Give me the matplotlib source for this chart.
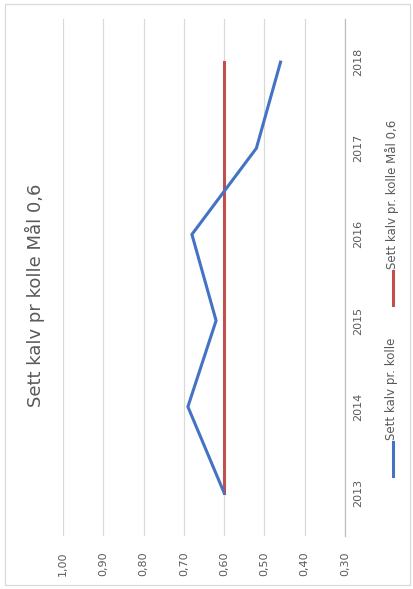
import numpy as np
import matplotlib
matplotlib.use('Agg')
import matplotlib.pyplot as plt
from matplotlib.lines import Line2D
from matplotlib.patches import Rectangle

years      = ['2013', '2014', '2015', '2016', '2017', '2018']
sett_kalv  = [0.60, 0.69, 0.62, 0.68, 0.52, 0.46]
maal       = [0.60, 0.60, 0.60, 0.60, 0.60, 0.60]
val_ticks  = [0.30, 0.40, 0.50, 0.60, 0.70, 0.80, 0.90, 1.00]

blue  = '#4472c4'
red   = '#c0504d'
txt   = '#595959'
W, H  = 414., 589.

fig = plt.figure(figsize=(4.14, 5.89), dpi=100)
fig.patch.set_facecolor('white')

# the whole chart is turned 90 deg ccw: values run along x (1,00 left), years along y
ax = fig.add_axes([63/W, 1-536/H, (345-63)/W, (536-19)/H])
pos = np.arange(len(years))

for v in val_ticks:
    ax.axvline(v, color='#d9d9d9', lw=0.9, zorder=0)

ax.plot(sett_kalv, pos, color=blue, lw=2.2, solid_joinstyle='miter', zorder=3)
ax.plot(maal, pos, color=red, lw=2.2, zorder=2)

ax.set_xlim(1.0, 0.3)
ax.set_ylim(-0.5, len(years)-0.5)
ax.set_xticks(val_ticks)
ax.set_xticklabels([('%.2f' % v).replace('.', ',') for v in val_ticks], rotation=90)
ax.set_yticks(pos)
ax.set_yticklabels(years, rotation=90, va='center')
ax.yaxis.tick_right()
ax.tick_params(axis='x', length=0, pad=11, labelsize=8, labelcolor=txt)
ax.tick_params(axis='y', length=0, pad=6, labelsize=8, labelcolor=txt)
for s in ['top', 'left', 'bottom']:
    ax.spines[s].set_visible(False)
ax.spines['right'].set_color('#bfbfbf')
ax.spines['right'].set_linewidth(0.9)
ax.set_facecolor('none')

# title on the left side
fig.text(35/W, 1-295/H, 'Sett kalv pr kolle Mål 0,6', rotation=90,
         ha='center', va='center', fontsize=13, color=txt)

# legend, drawn by hand since it is rotated too
lx = 393/W
fig.add_artist(Line2D([lx, lx], [1-476/H, 1-442/H], color=blue, lw=2.2))
fig.text(lx - 1/W, 1-440/H, 'Sett kalv pr. kolle', rotation=90, ha='center', va='bottom',
         fontsize=8.5, color=txt)
fig.add_artist(Line2D([lx, lx], [1-305/H, 1-271/H], color=red, lw=2.2))
fig.text(lx - 1/W, 1-269/H, 'Sett kalv pr. kolle Mål 0,6', rotation=90, ha='center', va='bottom',
         fontsize=8.5, color=txt)

# chart border
fig.add_artist(Rectangle((5/W, 1-585/H), 405/W, 581/H, transform=fig.transFigure,
                         fill=False, edgecolor='#d9d9d9', lw=0.9))

fig.savefig('out.png', dpi=100)
